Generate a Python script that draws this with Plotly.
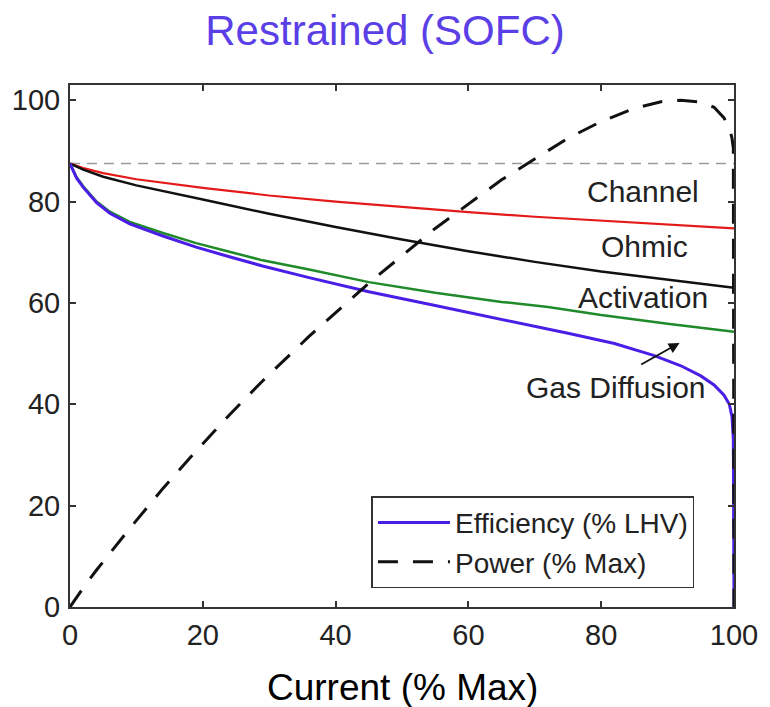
import plotly.graph_objects as go

# ---- data ----
x_channel = [0, 2, 5, 10, 20, 30, 40, 50, 60, 70, 80, 90, 100]
y_channel = [87.5, 86.6, 85.6, 84.4, 82.7, 81.2, 80.0, 78.9, 77.9, 77.0, 76.2, 75.4, 74.7]

x_ohmic = [0, 2, 5, 10, 20, 30, 40, 50, 60, 70, 80, 90, 100]
y_ohmic = [87.5, 86.3, 84.9, 83.2, 80.4, 77.6, 75.0, 72.5, 70.2, 68.1, 66.2, 64.6, 63.0]

x_activation = [0, 1, 2, 4, 6, 9, 14, 19, 24, 29, 36, 45, 55, 65, 72, 80, 90, 100]
y_activation = [87.5, 84.8, 83.0, 80.0, 78.0, 76.0, 73.8, 71.8, 70.1, 68.4, 66.6, 64.1, 62.0, 60.2, 59.2, 57.6, 55.9, 54.3]

x_efficiency = [0, 1, 2, 4, 6, 9, 14, 19, 24, 29, 36, 45, 55, 65, 75, 82, 88, 92, 95, 97, 98.5, 99.3, 99.7, 99.9, 100]
y_efficiency = [87.5, 84.6, 82.8, 79.8, 77.7, 75.6, 73.2, 71.0, 69.1, 67.3, 65.0, 62.2, 59.5, 56.8, 54.0, 52.0, 49.6, 47.6, 45.6, 43.8, 41.8, 40.0, 37.5, 33.0, 0]

x_power = [0, 2, 4, 6, 9, 14, 19, 24, 29, 36, 45, 55, 65, 75, 80, 85, 89, 92, 95, 97, 98.5, 99.3, 99.7, 99.9, 100]
y_power = [0, 3.8, 7.3, 10.6, 15.5, 23.4, 30.8, 37.9, 44.6, 53.4, 63.9, 74.7, 84.3, 92.5, 95.8, 98.4, 99.7, 100, 99.6, 98.6, 96.5, 94.5, 92.5, 90.5, 0]

x_reference = [0, 100]
y_reference = [87.5, 87.5]

labels = ["Channel", "Ohmic", "Activation", "Gas Diffusion"]
label_x = [86.3, 86.5, 86.3, 82.2]
label_y = [81.9, 71.2, 61.1, 43.4]

x_ticks = [0, 20, 40, 60, 80, 100]
y_ticks = [0, 20, 40, 60, 80, 100]

FONT = "Liberation Sans, Arial, sans-serif"

fig = go.Figure()
fig.add_trace(go.Scatter(x=x_reference, y=y_reference, mode="lines", showlegend=False,
                         line=dict(color="#9a9a9a", width=1.5, dash="10px,7px")))
fig.add_trace(go.Scatter(x=x_channel, y=y_channel, mode="lines", showlegend=False,
                         line=dict(color="#e41a1a", width=2.2)))
fig.add_trace(go.Scatter(x=x_ohmic, y=y_ohmic, mode="lines", showlegend=False,
                         line=dict(color="#111111", width=2.5)))
fig.add_trace(go.Scatter(x=x_activation, y=y_activation, mode="lines", showlegend=False,
                         line=dict(color="#1f8a2a", width=2.5)))
fig.add_trace(go.Scatter(x=x_efficiency, y=y_efficiency, mode="lines", name="Efficiency (% LHV)",
                         line=dict(color="#4a1ee6", width=3)))
fig.add_trace(go.Scatter(x=x_power, y=y_power, mode="lines", name="Power (% Max)",
                         line=dict(color="#111111", width=3, dash="20px,15px")))

for t, lx, ly in zip(labels, label_x, label_y):
    fig.add_annotation(x=lx, y=ly, xref="x", yref="y", text=t, showarrow=False,
                       font=dict(family=FONT, size=30, color="#222222"),
                       xanchor="center", yanchor="middle")

# arrow pointing to gas-diffusion region
fig.add_annotation(x=91.8, y=52.1, ax=85.8, ay=47.7, xref="x", yref="y", axref="x", ayref="y",
                   text="", showarrow=True, arrowhead=2, arrowsize=1.2, arrowwidth=1.8,
                   arrowcolor="#111111")

# x axis title
fig.add_annotation(x=0.5, y=-0.155, xref="paper", yref="paper", text="Current (% Max)",
                   showarrow=False, font=dict(family=FONT, size=37, color="#000000"),
                   xanchor="center", yanchor="middle")

axis_common = dict(showgrid=False, zeroline=False, showline=True, linecolor="#333333",
                   linewidth=2, mirror="ticks", ticks="inside", ticklen=6, tickwidth=1.5,
                   tickcolor="#333333", tickfont=dict(family=FONT, size=29, color="#222222"))

fig.update_layout(
    width=770, height=707,
    margin=dict(l=68, r=32, t=85, b=100),
    paper_bgcolor="white", plot_bgcolor="white",
    title=dict(text="Restrained (SOFC)", x=0.5, xref="container", xanchor="center",
               y=1 - 30 / 707, yref="container", yanchor="middle",
               font=dict(family=FONT, size=42, color="#5b3fe6")),
    xaxis=dict(range=[0, 100], tickvals=x_ticks, ticktext=[str(v) for v in x_ticks],
               ticklabelstandoff=1, **axis_common),
    yaxis=dict(range=[0, 103], tickvals=y_ticks, ticktext=[str(v) for v in y_ticks],
               ticklabelstandoff=2, **axis_common),
    legend=dict(x=0.454, y=0.036, xanchor="left", yanchor="bottom",
                bgcolor="white", bordercolor="#333333", borderwidth=1.5,
                font=dict(family=FONT, size=28, color="#222222"),
                tracegroupgap=0, itemwidth=72),
    showlegend=True,
)

fig.write_html("out.html")
